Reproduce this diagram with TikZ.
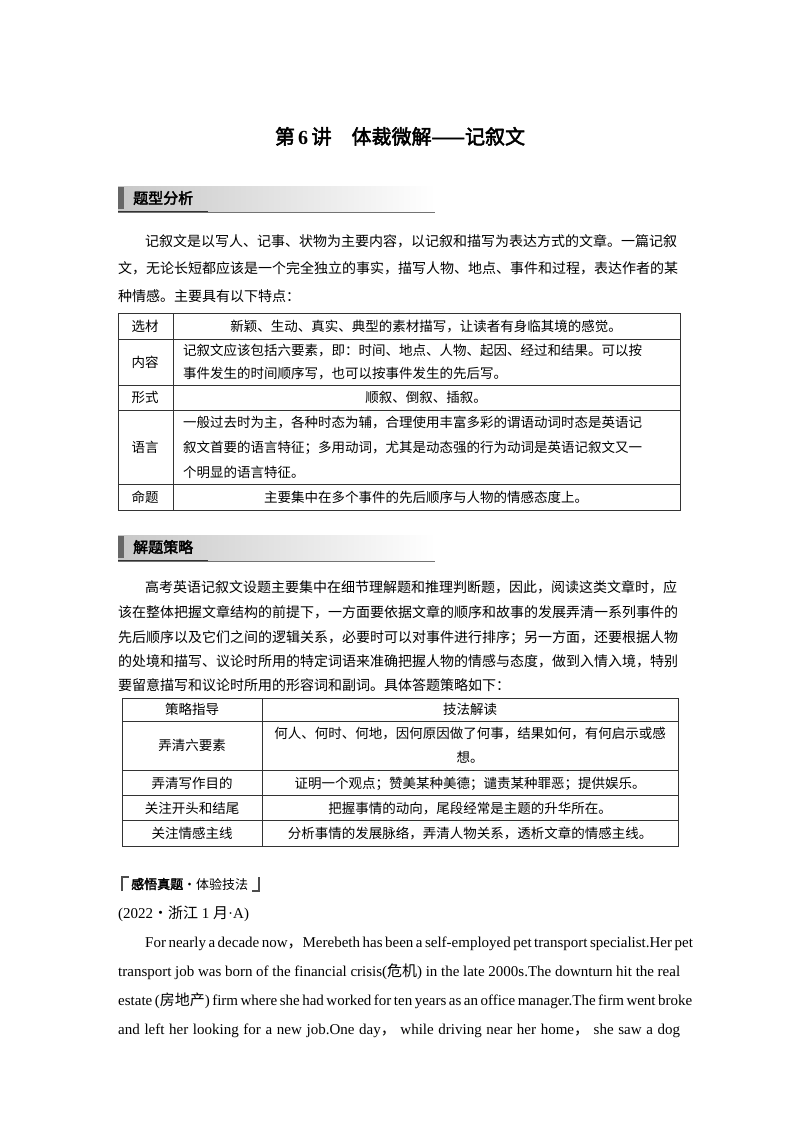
\documentclass[tikz,border=0pt]{standalone}
\usepackage{fontspec}
\setmainfont{Liberation Serif}
\newfontfamily\cjk{Noto Sans CJK SC}
\newfontfamily\cjkb{Noto Sans CJK SC}[FakeBold=2.5]
\tikzset{
  ln/.style={anchor=base west,inner sep=0pt,font=\fontsize{14}{14}\selectfont\cjk},
  cl/.style={anchor=base,inner sep=0pt,font=\fontsize{13.5}{14}\selectfont\cjk},
  tl/.style={anchor=base west,inner sep=0pt,font=\fontsize{13.5}{14}\selectfont\cjk},
  en/.style={anchor=base west,inner sep=0pt,font=\fontsize{15}{15}\selectfont},
  grid/.style={draw=black!80,line width=0.6pt},
}
\newcommand\hdr[3]{%
  \shade[left color=black!22,right color=white] (118,#1-12) rectangle (435,#1+13);
  \fill[black!60] (118,#1-11) rectangle (124,#1+11);
  \node[anchor=west,inner sep=0pt,font=\fontsize{15}{15}\selectfont\cjkb] (#3) at (133,#1) {#2};
  \draw[black!55,line width=0.8pt] (118,#1+14) -- (435,#1+14);
  \draw[black!80,line width=0.8pt] (118,#1+13) -- (208,#1+13);
}
\begin{document}
\begin{tikzpicture}[x=1pt,y=-1pt]
\useasboundingbox (0,0) rectangle (800,1132);
\node[anchor=base,inner sep=0pt,font=\fontsize{20}{20}\selectfont\cjkb] (title) at (400,144) {第\,{\rmfamily\bfseries 6}\,讲\quad 体裁微解——记叙文};
\hdr{198}{题型分析}{h1}
\node[ln] (p1a) at (145,246) {记叙文是以写人、记事、状物为主要内容，以记叙和描写为表达方式的文章。一篇记叙};
\node[ln] (p1b) at (118,273) {文，无论长短都应该是一个完全独立的事实，描写人物、地点、事件和过程，表达作者的某};
\node[ln] (p1c) at (118,301) {种情感。主要具有以下特点：};
% table 1
\draw[grid] (118,313) rectangle (680,510);
\foreach \y in {339,385,410,484} \draw[grid] (118,\y) -- (680,\y);
\draw[grid] (173,313) -- (173,510);
\node[cl] (a1) at (145,331) {选材};
\node[cl] (a2) at (145,367) {内容};
\node[cl] (a3) at (145,402) {形式};
\node[cl] (a4) at (145,452) {语言};
\node[cl] (a5) at (145,502) {命题};
\node[cl] (b1) at (426,331) {新颖、生动、真实、典型的素材描写，让读者有身临其境的感觉。};
\node[tl] (b2a) at (183,355) {记叙文应该包括六要素，即：时间、地点、人物、起因、经过和结果。可以按};
\node[tl] (b2b) at (183,378) {事件发生的时间顺序写，也可以按事件发生的先后写。};
\node[cl] (b3) at (426,402) {顺叙、倒叙、插叙。};
\node[tl] (b4a) at (183,427) {一般过去时为主，各种时态为辅，合理使用丰富多彩的谓语动词时态是英语记};
\node[tl] (b4b) at (183,452) {叙文首要的语言特征；多用动词，尤其是动态强的行为动词是英语记叙文又一};
\node[tl] (b4c) at (183,477) {个明显的语言特征。};
\node[cl] (b5) at (426,502) {主要集中在多个事件的先后顺序与人物的情感态度上。};
\hdr{547}{解题策略}{h2}
\node[ln] (p2a) at (145,592) {高考英语记叙文设题主要集中在细节理解题和推理判断题，因此，阅读这类文章时，应};
\node[ln] (p2b) at (118,617) {该在整体把握文章结构的前提下，一方面要依据文章的顺序和故事的发展弄清一系列事件的};
\node[ln] (p2c) at (118,642) {先后顺序以及它们之间的逻辑关系，必要时可以对事件进行排序；另一方面，还要根据人物};
\node[ln] (p2d) at (118,666) {的处境和描写、议论时所用的特定词语来准确把握人物的情感与态度，做到入情入境，特别};
\node[ln] (p2e) at (118,690) {要留意描写和议论时所用的形容词和副词。具体答题策略如下：};
% table 2
\draw[grid] (122,698) rectangle (678,846);
\foreach \y in {721,770,795,820} \draw[grid] (122,\y) -- (678,\y);
\draw[grid] (262,698) -- (262,846);
\node[cl] (c0) at (192,714) {策略指导};
\node[cl] (c1) at (192,750) {弄清六要素};
\node[cl] (c2) at (192,788) {弄清写作目的};
\node[cl] (c3) at (192,813) {关注开头和结尾};
\node[cl] (c4) at (192,838) {关注情感主线};
\node[cl] (d0) at (470,714) {技法解读};
\node[cl] (d1a) at (470,738) {何人、何时、何地，因何原因做了何事，结果如何，有何启示或感};
\node[cl] (d1b) at (470,762) {想。};
\node[cl] (d2) at (470,788) {证明一个观点；赞美某种美德；谴责某种罪恶；提供娱乐。};
\node[cl] (d3) at (470,813) {把握事情的动向，尾段经常是主题的升华所在。};
\node[cl] (d4) at (470,838) {分析事情的发展脉络，弄清人物关系，透析文章的情感主线。};
% bracket heading
\draw[black!70,line width=1.2pt] (122,891) -- (122,877) -- (129,877);
\node[anchor=base west,inner sep=0pt,font=\fontsize{13}{13}\selectfont] (bh) at (131,889) {{\cjkb 感悟真题}{\cjk ·体验技法}};
\draw[black!70,line width=1.2pt] (252,891) -- (259,891) -- (259,877);
\node[en] (src) at (118,918) {(2022{\cjk ·浙江} 1 {\cjk 月}·A)};
\node[en] (e1) at (145,947) {\makebox[535pt][s]{For nearly a decade now{\cjk ，}Merebeth has been a self-employed pet transport specialist.Her pet}};
\node[en] (e2) at (118,976) {\makebox[562pt][s]{transport job was born of the financial crisis({\cjk 危机}) in the late 2000s.The downturn hit the real}};
\node[en] (e3) at (118,1005) {\makebox[562pt][s]{estate ({\cjk 房地产}) firm where she had worked for ten years as an office manager.The firm went broke}};
\node[en] (e4) at (118,1034) {\makebox[562pt][s]{and left her looking for a new job.One day{\cjk ，} while driving near her home{\cjk ，} she saw a dog}};
\end{tikzpicture}
\end{document}
